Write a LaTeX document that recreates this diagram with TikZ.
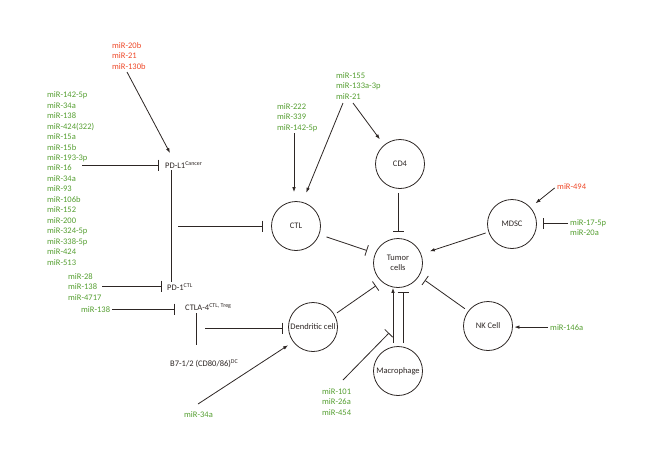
\documentclass[tikz,border=0pt]{standalone}
\usepackage{fontspec}
\setmainfont{Carlito}
\usepackage{tikz}
\usetikzlibrary{arrows.meta,positioning}

\definecolor{mirgreen}{RGB}{84,158,48}
\definecolor{mirred}{RGB}{238,72,40}
\definecolor{ink}{RGB}{45,38,36}

\begin{document}
\begin{tikzpicture}[x=1pt,y=-1pt,
	font=\fontsize{8.5}{10.45}\selectfont,
	cell/.style={shape=circle,draw=ink,line width=0.8pt,minimum size=49pt,inner sep=0pt,align=center,text=ink},
	mir/.style={anchor=base west,inner sep=0pt,align=left,text=mirgreen},
	mirup/.style={mir,text=mirred},
	lbl/.style={anchor=base west,inner sep=0pt,text=ink},
	act/.style={draw=ink,line width=0.8pt,-{Latex[length=5pt,width=3.6pt]}},
	inh/.style={draw=ink,line width=0.8pt,-{Bar[width=11pt]}},
	link/.style={draw=ink,line width=0.8pt}]
	\useasboundingbox (0,0) rectangle (660,458);

	% cells
	\node[cell] (ctl) at (296,226) {CTL};
	\node[cell] (cd4) at (400,164) {CD4};
	\node[cell] (tumor) at (398,263) {Tumor\\cells};
	\node[cell] (mdsc) at (512,224) {MDSC};
	\node[cell] (nk) at (488,326) {NK Cell};
	\node[cell] (mac) at (398,371) {Macrophage};
	\node[cell] (dc) at (313,327) {Dendritic cell};

	% checkpoint labels
	\node[lbl] (pdl1) at (165,168) {PD-L1\textsuperscript{Cancer}};
	\node[lbl] (pd1) at (167,290) {PD-1\textsuperscript{CTL}};
	\node[lbl] (ctla4) at (185,310) {CTLA-4\textsuperscript{CTL, Treg}};
	\node[lbl] (b7) at (170,366) {B7-1/2 (CD80/86)\textsuperscript{DC}};

	% microRNAs (base = last line)
	\node[mirup] (pdl1up) at (112,69) {miR-20b\\miR-21\\miR-130b};
	\node[mir] (pdl1mir) at (47,265) {miR-142-5p\\miR-34a\\miR-138\\miR-424(322)\\miR-15a\\miR-15b\\miR-193-3p\\miR-16\\miR-34a\\miR-93\\miR-106b\\miR-152\\miR-200\\miR-324-5p\\miR-338-5p\\miR-424\\miR-513};
	\node[mir] (pd1mir) at (68,300) {miR-28\\miR-138\\miR-4717};
	\node[mir] (ctla4mir) at (81,312) {miR-138};
	\node[mir] (dcmir) at (184,417) {miR-34a};
	\node[mir] (ctlmir) at (277,130) {miR-222\\miR-339\\miR-142-5p};
	\node[mir] (cd4mir) at (336,99) {miR-155\\miR-133a-3p\\miR-21};
	\node[mirup] (mdscup) at (557,189) {miR-494};
	\node[mir] (mdscmir) at (570,235.5) {miR-17-5p\\miR-20a};
	\node[mir] (nkmir) at (550,330) {miR-146a};
	\node[mir] (macmir) at (322,415) {miR-101\\miR-26a\\miR-454};

	% free ends
	\coordinate (pdl1up-out) at (127,72);
	\coordinate (pdl1-in) at (170,153);
	\coordinate (pdl1mir-out) at (82,165);
	\coordinate (pdl1-top) at (171,170);
	\coordinate (pdl1-bot) at (171,282);
	\coordinate (pdl1-mid) at (178,226);
	\coordinate (pd1mir-out) at (102,286);
	\coordinate (ctla4-top) at (196,313);
	\coordinate (ctla4-bot) at (196,345);
	\coordinate (ctla4-mid) at (205,328);
	\coordinate (dcmir-out) at (198,404);
	\coordinate (ctlmir-out) at (294,133);
	\coordinate (cd4mir-out1) at (343,103);
	\coordinate (cd4mir-out2) at (353,103);
	\coordinate (mdscmir-out) at (568,223);
	\coordinate (macmir-out) at (343,380);
	\coordinate (macmir-in) at (389,333);

	% PD-L1 / PD-1 / CTLA-4 axis
	\path[act] (pdl1up-out) -- (pdl1-in);
	\path[inh,shorten >=6pt] (pdl1mir-out) -- (pdl1mir-out -| pdl1.west);
	\path[link] (pdl1-top) -- (pdl1-bot);
	\path[inh,shorten >=8.5pt] (pdl1-mid) -- (pdl1-mid -| ctl.west);
	\path[inh,shorten >=5pt] (pd1mir-out) -- (pd1mir-out -| pd1.west);
	\path[inh,shorten <=2pt,shorten >=10pt] (ctla4mir.east) -- (ctla4mir.east -| ctla4.west);
	\path[link] (ctla4-top) -- (ctla4-bot);
	\path[inh,shorten >=5pt] (ctla4-mid) -- (ctla4-mid -| dc.west);
	\path[act,shorten >=6pt] (dcmir-out) -- (dc.217);

	% CTL and CD4
	\path[act,shorten >=9pt] (ctlmir-out) -- (ctlmir-out |- ctl.north);
	\path[act,shorten >=10pt] (cd4mir-out1) -- (ctl.75);
	\path[act,shorten >=7pt] (cd4mir-out2) -- (cd4.130);

	% into the tumor
	\path[inh,shorten <=4pt,shorten >=6pt] ([xshift=-2pt]cd4.south) -- ([xshift=-2pt]cd4.south |- tumor.north);
	\path[inh,shorten <=7.5pt,shorten >=8.5pt] (ctl.-20) -- (tumor.157);
	\path[inh,shorten <=3pt,shorten >=7pt] (dc.30) -- (tumor.229);
	\path[act,shorten <=3pt,shorten >=9pt] (mdsc.199) -- (tumor.21);
	\path[inh,shorten <=4pt,shorten >=7pt] (nk.143) -- (tumor.-32);
	\path[act,shorten <=3pt] ([xshift=-5pt]mac.north) -- ([xshift=-5pt]tumor.south);
	\path[inh,shorten <=3pt,shorten >=4pt] ([xshift=5pt]mac.north) -- ([xshift=5pt]tumor.south);
	\path[inh] (macmir-out) -- (macmir-in);

	% MDSC and NK
	\path[act,shorten <=3pt,shorten >=6.5pt] (mdscup.west) -- (mdsc.42);
	\path[inh,shorten >=6.5pt] (mdscmir-out) -- (mdscmir-out -| mdsc.east);
	\path[act,shorten <=2pt,shorten >=1.5pt] (nkmir.west) -- (nkmir.west -| nk.east);
\end{tikzpicture}
\end{document}
